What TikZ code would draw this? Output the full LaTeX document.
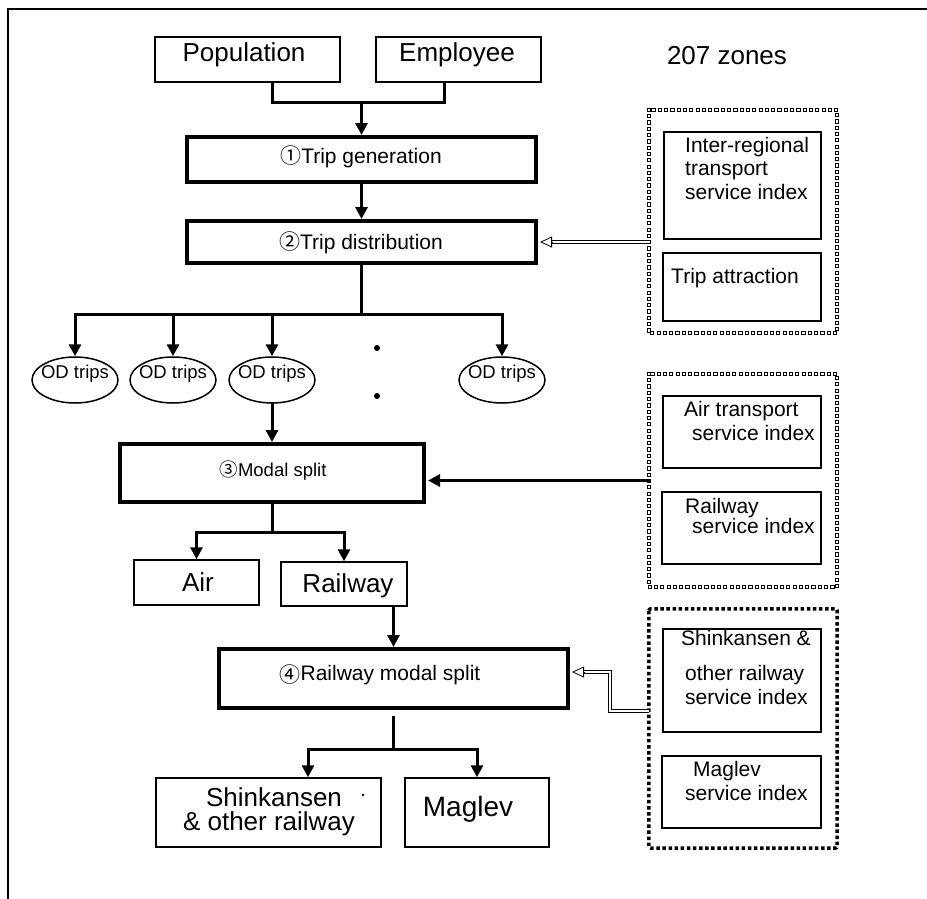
\documentclass[tikz,border=0pt]{standalone}
\usepackage{fontspec}
\setmainfont{Liberation Sans}
\newfontfamily\cjkf{Noto Sans CJK JP}
\usetikzlibrary{arrows.meta,shapes.geometric,fit,decorations.markings,calc}
\newcommand\fbig{\fontsize{26}{28}\selectfont}
\newcommand\fmid{\fontsize{21}{24}\selectfont}
\newcommand\fsml{\fontsize{18.5}{21}\selectfont}
\newcommand\circd[1]{{\cjkf #1}}
\begin{document}
\begin{tikzpicture}[x=1pt,y=-1pt,
  box/.style={draw, line width=1.5pt, inner sep=0pt},
  tbox/.style={draw, line width=4pt, inner sep=0pt},
  area/.style={inner sep=0pt},
  odell/.style={draw, ellipse, line width=1.5pt, minimum width=86pt, minimum height=46pt, inner sep=0pt},
  tB/.style={font=\fbig, inner sep=0pt, text height=18.7pt, text depth=0pt},
  tM/.style={font=\fmid, inner sep=0pt, text height=15.1pt, text depth=0pt},
  tS/.style={font=\fsml, inner sep=0pt, text height=13.3pt, text depth=0pt},
  conn/.style={line width=3pt, line cap=rect},
  arr/.style={line width=3pt, line cap=rect, -{Triangle[width=12pt,length=12pt]}},
  dbl/.style={double, double distance=1.8pt, line width=0.7pt},
  otip/.style={line width=0.8pt, -{Triangle[open, width=11pt, length=12pt]}},
  sqb/.style={postaction={decorate}, decoration={markings,
     mark=between positions 0 and 1 step 6.3pt with {\filldraw[fill=white, line width=0.7pt] (-1.6pt,-1.6pt) rectangle (1.6pt,1.6pt);}}},
  blkb/.style={line width=3.5pt, dash pattern=on 3.5pt off 2.6pt, rounded corners=2pt}
]
\useasboundingbox (0,0) rectangle (927,899);
% frame
\draw[line width=1.8pt] (927,9) -- (8,9) -- (8,899);

% top boxes
\node[box, fit={(155,37) (340,82)}] (pop) {};
\node[box, fit={(376,37) (541,82)}] (emp) {};
\node[tB] (popT) at (244,52) {Population};
\node[tB] (empT) at (457,52) {Employee};
\node[tB] (zones) at (727,55) {207 zones};

\node[tbox, fit={(187,137) (536,182)}] (gen) {};
\node[tM] (genT) at (361,156) {\circd{①}Trip generation};
\node[tbox, fit={(187,221) (536,263)}] (dist) {};
\node[tM] (distT) at (361,242) {\circd{②}Trip distribution};

\coordinate (jn) at ($(gen.north)+(0,-32)$);
\draw[conn] ([xshift=25pt]pop.south) |- (jn);
\draw[conn] ([xshift=-14.5pt]emp.south) |- (jn);
\draw[arr] (jn) -- (gen.north);
\draw[arr] (gen.south) -- (dist.north);

% OD trips
\node[odell] (od1) at (75,380) {};
\node[odell] (od2) at (173,380) {};
\node[odell] (od3) at (272,380) {};
\node[odell] (od4) at (502,380) {};
\foreach \i in {1,...,4} {
  \node[tS] (od\i T) at ($(od\i.center)+(0,-8)$) {OD trips};
}
\fill (377,348) circle (3pt);
\fill (377,396) circle (3pt);

\coordinate (jd) at ($(dist.south)+(0,49)$);
\draw[conn] (dist.south) -- (jd);
\draw[arr] (jd) -| (od1.north);
\draw[arr] (jd) -| (od4.north);
\draw[arr] (jd -| od2.north) -- (od2.north);
\draw[arr] (jd -| od3.north) -- (od3.north);

% modal split
\node[tbox, fit={(120,444) (424,502)}] (ms) {};
\node[tS] (msT) at (273,470) {\circd{③}Modal split};
\draw[arr] (od3.south) -- (ms.north);

\node[box, fit={(134,560) (259,605)}] (air) {};
\node[box, fit={(281,562) (407,606)}] (rail) {};
\node[tB] (airT) at (198,582) {Air};
\node[tB] (railT) at (348,583) {Railway};
\coordinate (jm) at ($(ms.south)+(0,28)$);
\draw[conn] (ms.south) -- (jm);
\draw[arr] (jm) -| (air.north);
\draw[arr] (jm) -| (rail.north);

% railway modal split
\node[tbox, fit={(219,649) (568,708)}] (rms) {};
\node[tM] (rmsT) at (380,673) {\raisebox{-2pt}{\circd{④}}Railway modal split};
\draw[arr] (rail.south -| rms.north) -- (rms.north);

\node[box, fit={(156,778) (381,847)}] (shk) {};
\node[box, fit={(405,778) (549,847)}] (mg) {};
\node[tB] (shkT1) at (274,797) {Shinkansen};
\node[tB] (shkT2) at (269,821) {\& other railway};
\fill (363,795) circle (1.3pt);
\node[tB, font=\fontsize{28}{30}\selectfont] (mgT) at (468,807) {Maglev};
\coordinate (jr) at ($(rms.south)+(0,39)$);
\draw[conn] ([yshift=-7pt]rms.south) -- (jr);
\coordinate (sa) at ([xshift=39.5pt]shk.north);
\draw[arr] (jr) -| (sa);
\draw[arr] (jr) -| (mg.north);

% right group 1
\node[area, fit={(649,110) (837,333)}] (db1) {};
\path[sqb] (db1.north west) rectangle (db1.south east);
\node[box, fit={(664,132) (821,239)}] (ir) {};
\node[tM, anchor=west] (ir1) at (685,145) {Inter-regional};
\node[tM, anchor=west] (ir2) at (685,168) {transport};
\node[tM, anchor=west] (ir3) at (685,192) {service index};
\node[box, fit={(663,253) (821,321)}] (ta) {};
\node[tM, anchor=west] (taT) at (671,276) {Trip attraction};
\draw[dbl] (dist.east -| db1.west) -- ([xshift=14pt]dist.east);
\draw[otip] ([xshift=14pt]dist.east) -- ([xshift=2pt]dist.east);

% right group 2
\node[area, fit={(649,374) (837,587)}] (db2) {};
\path[sqb] (db2.north west) rectangle (db2.south east);
\node[box, fit={(663,396) (821,468)}] (atb) {};
\node[tM, anchor=west] (at1) at (684,409) {Air transport};
\node[tM, anchor=west] (at2) at (692,433) {service index};
\node[box, fit={(662,492) (821,564)}] (rsb) {};
\node[tM, anchor=west] (rs1) at (685,506) {Railway};
\node[tM, anchor=west] (rs2) at (692,526) {service index};
\draw[arr] (db2.west) -- ($(db2.west -| ms.east)+(2,0)$);

% right group 3
\node[area, fit={(649,609) (837,848)}] (db3) {};
\draw[blkb] (db3.north west) rectangle (db3.south east);
\node[box, fit={(663,629) (821,732)}] (skb) {};
\node[tM, anchor=west] (sk1) at (681,638) {Shinkansen \&};
\node[tM, anchor=west] (sk2) at (685,673) {other railway};
\node[tM, anchor=west] (sk3) at (685,697) {service index};
\node[box, fit={(662,756) (821,828)}] (mgb) {};
\node[tM, anchor=west] (mg1) at (693,769) {Maglev};
\node[tM, anchor=west] (mg2) at (685,793) {service index};
\coordinate (dk) at ($(rms.east)+(40,-6.5)$);
\draw[dbl] ([yshift=17.5pt]db3.west) -| (dk) -- ([xshift=14pt,yshift=6.5pt]rms.east);
\draw[otip] ([xshift=14pt,yshift=6.5pt]rms.east) -- ([xshift=2pt,yshift=6.5pt]rms.east);
\end{tikzpicture}
\end{document}
